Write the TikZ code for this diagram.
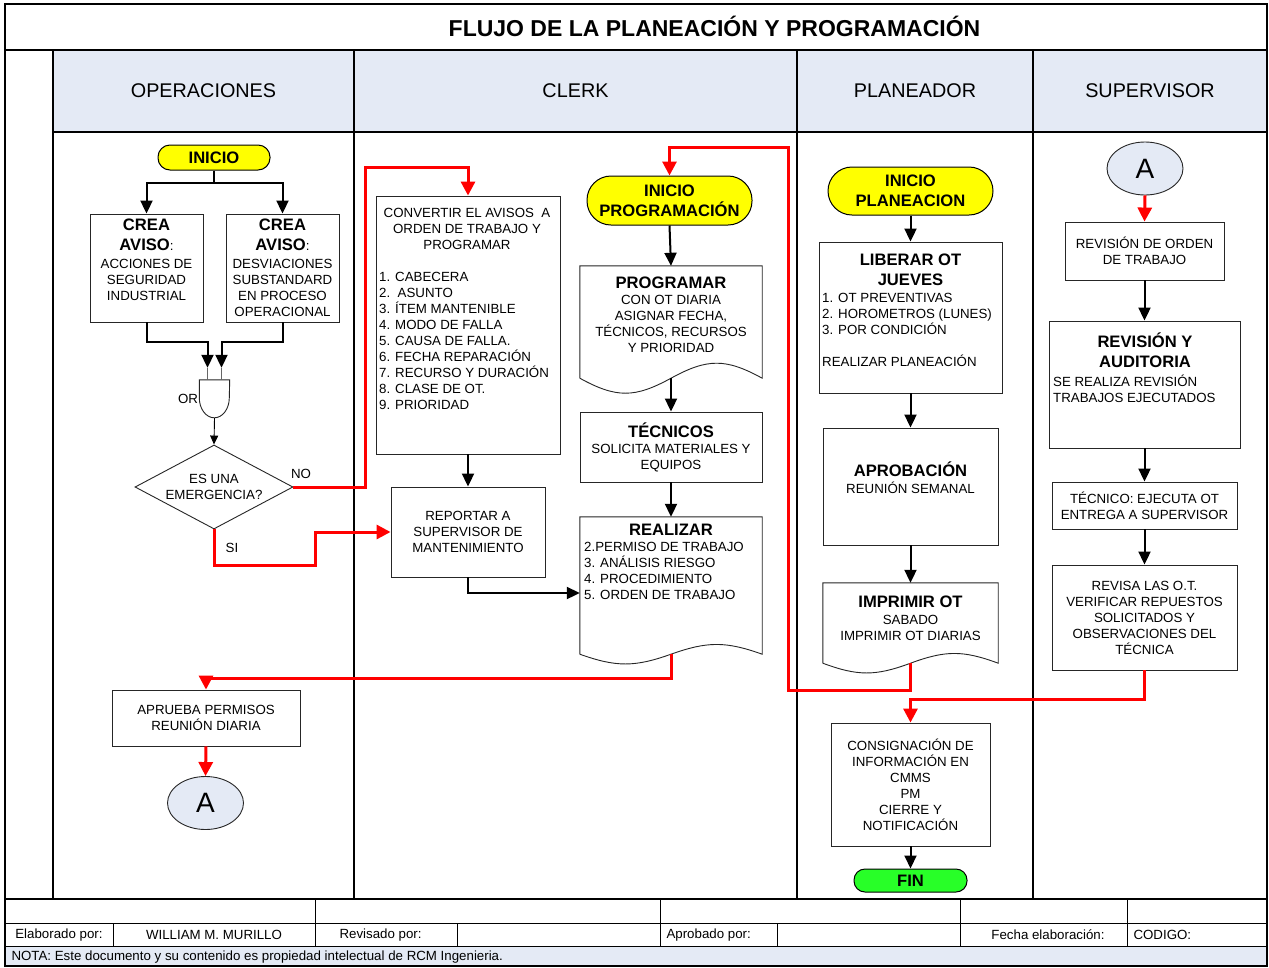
\documentclass[tikz,border=0pt]{standalone}
\usepackage{fontspec}
\setmainfont{Liberation Sans}
\usepackage{tikz}
\usetikzlibrary{positioning,shapes.geometric,shapes.misc,arrows.meta,calc}

\definecolor{laneblue}{RGB}{228,234,245}
\definecolor{termyellow}{RGB}{255,255,0}
\definecolor{fingreen}{RGB}{40,255,40}
\definecolor{flowred}{RGB}{255,0,0}

\newcommand{\txtsm}{\fontsize{13.3}{16}\selectfont}
\newcommand{\txtbf}{\bfseries\fontsize{16.6}{20}\selectfont}

% document shape: box with a wavy lower edge
\newcommand{\docwave}[2]{%
  \draw[boxline] (#1.south west) |- (#1.north east) -- (#1.south east)
    .. controls ($(#1.south west)!0.8!(#1.south east)+(0,-#2)$)
            and ($(#1.south west)!0.7!(#1.south east)+(0,-#2)$)
    .. ($(#1.south west)!0.5!(#1.south east)$)
    .. controls ($(#1.south west)!0.3!(#1.south east)+(0,#2)$)
            and ($(#1.south west)!0.2!(#1.south east)+(0,#2)$)
    .. (#1.south west);}

\begin{document}
\begin{tikzpicture}[x=1pt, y=-1pt,
  every node/.style={font=\txtsm},
  lane/.style   ={line width=1.3pt},
  cellline/.style={line width=0.8pt},
  boxline/.style={draw=black!85, line width=0.9pt},
  box/.style    ={rectangle, draw=black!85, line width=0.9pt, fill=white,
                  inner sep=0pt, align=center},
  docnode/.style={rectangle, inner sep=0pt},
  term/.style   ={rectangle, draw=black, line width=1pt, fill=termyellow,
                  font=\txtbf, align=center, inner sep=1pt},
  conn/.style   ={ellipse, draw=black!85, line width=0.9pt, fill=laneblue,
                  font=\fontsize{28}{30}\selectfont,
                  minimum width=76pt, minimum height=53pt, inner sep=0pt},
  txt/.style    ={inner sep=0pt, align=center},
  lst/.style    ={inner sep=0pt, align=left, anchor=north west},
  arr/.style    ={line width=2pt, -{Triangle[length=13pt,width=12pt]}},
  redarr/.style ={flowred, line width=3pt, -{Triangle[length=14pt,width=14pt]}},
  thinarr/.style={line width=0.9pt, -{Triangle[length=9pt,width=8pt]}}
]
\useasboundingbox (0,0) rectangle (1269,967);
\fill[white] (0,0) rectangle (1269,967);

%% --- Frame, lanes and footer grid ----------------------------
\fill[laneblue] (53,50) rectangle (1267,132);
\fill[laneblue] (5,946) rectangle (1267,966);
\draw[lane] (5,4) rectangle (1267,966);
\draw[lane] (5,50) -- (1267,50);
\draw[lane] (53,132) -- (1267,132);
\foreach \x in {53,354,797,1033}
  \draw[lane] (\x,50) -- (\x,899);
\draw[lane] (5,899) -- (1267,899);
\draw[cellline] (5,923) -- (1267,923);
\draw[cellline] (5,946) -- (1267,946);
\foreach \x in {315,660,960,1127}
  \draw[cellline] (\x,899) -- (\x,946);
\foreach \x in {113,457,777}
  \draw[cellline] (\x,923) -- (\x,946);

%% --- Title and lane headers ----------------------------------
\node[font=\bfseries\fontsize{23}{26}\selectfont] (titulo) at (714.5,26)
     {FLUJO DE LA PLANEACIÓN Y PROGRAMACIÓN};
\node[font=\fontsize{19.8}{22}\selectfont] (hOper)  at (203.5,91) {OPERACIONES};
\node[font=\fontsize{19.8}{22}\selectfont] (hClerk) at (575.5,91) {CLERK};
\node[font=\fontsize{19.8}{22}\selectfont] (hPlan)  at (915,91)   {PLANEADOR};
\node[font=\fontsize{19.8}{22}\selectfont] (hSup)   at (1150,91)  {SUPERVISOR};

%% --- Operaciones lane ----------------------------------------
\node[term, minimum width=112pt, minimum height=25pt, rounded corners=12pt]
     (ini) at (214,157.5) {INICIO};
\node[box, minimum width=113pt, minimum height=108pt] (aviso1) at (146.5,268) {};
\node[txt, anchor=north] (aviso1T) at (146.5,219)
     {{\txtbf CREA}\\[4pt]{\txtbf AVISO}:\\[2pt]ACCIONES DE\\SEGURIDAD\\INDUSTRIAL};
\node[box, minimum width=113pt, minimum height=108pt] (aviso2) at (282.5,268) {};
\node[txt, anchor=north] (aviso2T) at (282.5,219)
     {{\txtbf CREA}\\[4pt]{\txtbf AVISO}:\\[2pt]DESVIACIONES\\SUBSTANDARD\\EN PROCESO\\OPERACIONAL};

\node[minimum width=30pt, minimum height=38pt, inner sep=0pt] (gate) at (214.5,399) {};
\draw[boxline, fill=white] (gate.north west) -- ++(0,18)
     arc[start angle=180, end angle=0, x radius=15, y radius=20]
     -- (gate.north east) -- cycle;
\node[inner sep=0pt, left=1pt of gate.west] (orLbl) {OR};

\node[diamond, aspect=1.88, draw=black!85, line width=0.9pt, minimum width=158pt,
      minimum height=84pt, inner sep=0pt, align=center]
     (emerg) at (214,487) {ES UNA\\EMERGENCIA?};
\node (noLbl) at (301,474) {NO};
\node (siLbl) at (232,548) {SI};

\node[box, minimum width=188pt, minimum height=56pt] (aprueba) at (206,718)
     {APRUEBA PERMISOS\\REUNIÓN DIARIA};
\node[conn] (a1) at (205.5,803) {A};

%% --- Clerk lane ----------------------------------------------
\node[box, minimum width=184pt, minimum height=258pt] (conv) at (468,325) {};
\node[txt, anchor=north] (convT) at (467,208)
     {CONVERTIR EL AVISOS~~A\\ORDEN DE TRABAJO Y\\PROGRAMAR};
\node[lst] (convL) at (379,272)
     {1. CABECERA\\2.~~ASUNTO\\3. ÍTEM MANTENIBLE\\4. MODO DE FALLA\\5. CAUSA DE FALLA.\\6. FECHA REPARACIÓN\\7. RECURSO Y DURACIÓN\\8. CLASE DE OT.\\9. PRIORIDAD};
\node[box, minimum width=154pt, minimum height=90pt] (rep) at (468,532)
     {REPORTAR A\\SUPERVISOR DE\\MANTENIMIENTO};

\node[term, minimum width=165pt, minimum height=49pt, rounded corners=24pt]
     (iniprog) at (669.5,200.5) {INICIO\\PROGRAMACIÓN};
\node[docnode, minimum width=182pt, minimum height=112pt] (prog) at (671,322) {};
\docwave{prog}{20}
\node[txt, anchor=north] (progT) at (671,277)
     {{\txtbf PROGRAMAR}\\CON OT DIARIA\\ASIGNAR FECHA,\\TÉCNICOS, RECURSOS\\Y PRIORIDAD};
\node[box, minimum width=182pt, minimum height=70pt] (tec) at (671,447)
     {{\txtbf TÉCNICOS}\\SOLICITA MATERIALES Y\\EQUIPOS};
\node[docnode, minimum width=182pt, minimum height=137pt] (real) at (671,585.5) {};
\docwave{real}{13}
\node[txt, anchor=north] (realT) at (671,524) {\txtbf REALIZAR};
\node[lst] (realL) at (584,542)
     {2.PERMISO DE TRABAJO\\3. ANÁLISIS RIESGO\\4. PROCEDIMIENTO\\5. ORDEN DE TRABAJO};

%% --- Planeador lane ------------------------------------------
\node[term, minimum width=165pt, minimum height=48pt, rounded corners=24pt]
     (iniplan) at (910.5,191) {INICIO\\PLANEACION};
\node[box, minimum width=183pt, minimum height=151pt] (liberar) at (910.5,317.5) {};
\node[txt, anchor=north] (liberarT) at (910.5,254)
     {{\txtbf LIBERAR OT}\\[4pt]{\txtbf JUEVES}};
\node[lst] (liberarL) at (822,293)
     {1. OT PREVENTIVAS\\2. HOROMETROS (LUNES)\\3. POR CONDICIÓN\\[16pt]REALIZAR PLANEACIÓN};
\node[box, minimum width=175pt, minimum height=117pt] (aprob) at (910.5,486.5) {};
\node[txt, anchor=north] (aprobT) at (910.5,462)
     {{\txtbf APROBACIÓN}\\[1pt]REUNIÓN SEMANAL};
\node[docnode, minimum width=175pt, minimum height=80pt] (imp) at (910.5,623) {};
\docwave{imp}{13}
\node[txt, anchor=north] (impT) at (910.5,596)
     {{\txtbf IMPRIMIR OT}\\[1pt]SABADO\\IMPRIMIR OT DIARIAS};
\node[box, minimum width=159pt, minimum height=123pt] (consig) at (910.5,784.5)
     {CONSIGNACIÓN DE\\INFORMACIÓN EN\\CMMS\\PM\\CIERRE Y\\NOTIFICACIÓN};
\node[term, fill=fingreen, minimum width=113pt, minimum height=23pt, rounded corners=11pt]
     (fin) at (910.5,880.5) {FIN};

%% --- Supervisor lane -----------------------------------------
\node[conn] (a2) at (1145,168.5) {A};
\node[box, minimum width=159pt, minimum height=58pt] (revord) at (1144.5,251)
     {REVISIÓN DE ORDEN\\DE TRABAJO};
\node[box, minimum width=191pt, minimum height=127pt] (audit) at (1144.5,384.5) {};
\node[txt, anchor=north] (auditT) at (1145,333)
     {{\txtbf REVISIÓN Y}\\[4pt]{\txtbf AUDITORIA}};
\node[lst] (auditL) at (1053,375) {SE REALIZA REVISIÓN\\TRABAJOS EJECUTADOS};
\node[box, minimum width=185pt, minimum height=47pt] (tecnico) at (1144.5,505.5)
     {TÉCNICO: EJECUTA OT\\ENTREGA A SUPERVISOR};
\node[box, minimum width=185pt, minimum height=105pt] (revisa) at (1144.5,617.5)
     {REVISA LAS O.T.\\VERIFICAR REPUESTOS\\SOLICITADOS Y\\OBSERVACIONES DEL\\TÉCNICA};

%% --- Footer texts --------------------------------------------
\node (fElab)  at (59,935)  {Elaborado por:};
\node (fWill)  at (214,935) {WILLIAM M. MURILLO};
\node[anchor=west] (fRev)   at (336,935)  {Revisado por:};
\node[anchor=west] (fAprob) at (663,935)  {Aprobado por:};
\node (fFecha) at (1048,935) {Fecha elaboración:};
\node[anchor=west] (fCod)   at (1130,935) {CODIGO:};
\node[anchor=west] (fNota)  at (8,957.5)
     {NOTA: Este documento y su contenido es propiedad intelectual de RCM Ingenieria.};

%% --- Black arrows --------------------------------------------
\draw[arr] (ini.south) -- ++(0,12) -| (aviso1.north);
\draw[arr] (ini.south) -- ++(0,12) -| (aviso2.north);
\draw[arr] (aviso1.south) -- ++(0,20) -| ([xshift=-7pt,yshift=12pt]gate.north);
\draw[arr] (aviso2.south) -- ++(0,20) -| ([xshift=7pt,yshift=12pt]gate.north);
\draw[black!60] ([xshift=-7pt,yshift=12pt]gate.north) -- ([xshift=-7pt]gate.north);
\draw[black!60] ([xshift=7pt,yshift=12pt]gate.north) -- ([xshift=7pt]gate.north);
\draw[thinarr] (gate.south) -- (emerg.north);
\draw[arr] (conv.south) -- (rep.north);
\draw[arr] (rep.south) |- ([yshift=-7.5pt]real.west);
\draw[arr] (iniprog.south) -- (prog.north);
\draw[arr] (prog.south) -- (tec.north);
\draw[arr] (tec.south) -- (real.north);
\draw[arr] (iniplan.south) -- (liberar.north);
\draw[arr] (liberar.south) -- (aprob.north);
\draw[arr] (aprob.south) -- (imp.north);
\draw[arr] (consig.south) -- (fin.north);
\draw[arr] (revord.south) -- (audit.north);
\draw[arr] (audit.south) -- (tecnico.north);
\draw[arr] (tecnico.south) -- (revisa.north);

%% --- Red arrows ----------------------------------------------
% NO -> convertir
\draw[redarr] (emerg.east) -| ++(72,-320) -| (conv.north);
% SI -> reportar
\draw[redarr] (emerg.south) -- ++(0,36) -- ++(101,0) |- (rep.west);
% realizar -> aprueba permisos
\draw[redarr] (real.south) -- ++(0,24) -| (aprueba.north);
\draw[redarr] (aprueba.south) -- (a1.north);
% imprimir -> inicio programacion
\draw[redarr] (imp.south) -- ++(0,27) -- ++(-122,0) -- ++(0,-543) -| (iniprog.north);
\draw[redarr] (a2.south) -- (revord.north);
% revisa -> consignacion
\draw[redarr] (revisa.south) -- ++(0,29) -| (consig.north);

\end{tikzpicture}
\end{document}
